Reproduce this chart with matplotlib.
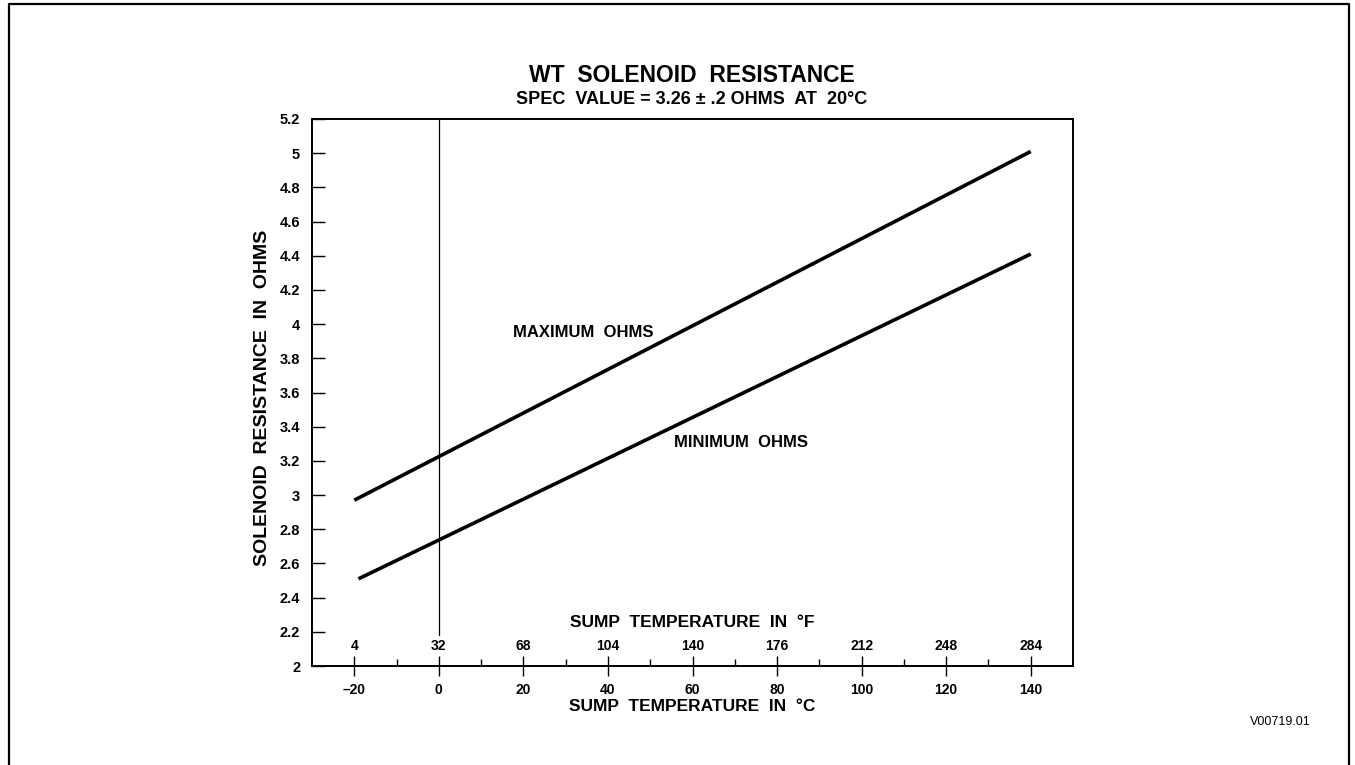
import matplotlib.pyplot as plt
from matplotlib.lines import Line2D

# resistance limits vs sump temperature (deg C)
max_temp = [-20, 140]
max_ohms = [2.97, 5.01]
min_temp = [-19, 140]
min_ohms = [2.51, 4.41]

c_ticks = [-20, 0, 20, 40, 60, 80, 100, 120, 140]
c_labels = ['–20', '0', '20', '40', '60', '80', '100', '120', '140']
f_labels = ['4', '32', '68', '104', '140', '176', '212', '248', '284']
y_ticks = [2, 2.2, 2.4, 2.6, 2.8, 3, 3.2, 3.4, 3.6, 3.8, 4, 4.2, 4.4, 4.6, 4.8, 5, 5.2]
y_labels = ['2', '2.2', '2.4', '2.6', '2.8', '3', '3.2', '3.4', '3.6', '3.8', '4',
            '4.2', '4.4', '4.6', '4.8', '5', '5.2']

FONT = ['Liberation Sans', 'DejaVu Sans']

W, H = 1355, 765
fig = plt.figure(figsize=(W / 100, H / 100), dpi=100)
ax = fig.add_axes([312 / W, 1 - 666 / H, (1073 - 312) / W, (666 - 119) / H])

ax.plot(max_temp, max_ohms, color='black', lw=2.6, solid_capstyle='butt')
ax.plot(min_temp, min_ohms, color='black', lw=2.6, solid_capstyle='butt')
ax.plot([0, 0], [2.18, 5.2], color='black', lw=0.9)

ax.set_xlim(-30, 150)
ax.set_ylim(2, 5.2)

for s in ax.spines.values():
    s.set_linewidth(1.4)

ax.set_xticks(c_ticks)
ax.set_xticklabels(c_labels, family=FONT, weight='bold', fontsize=10)
ax.set_xticks([c + 10 for c in c_ticks[:-1]], minor=True)
ax.tick_params(axis='x', which='major', direction='inout', length=14, width=1, pad=5)
ax.tick_params(axis='x', which='minor', direction='in', length=5, width=1)

ax.set_yticks(y_ticks)
ax.set_yticklabels(y_labels, family=FONT, weight='bold', fontsize=10.5)
ax.tick_params(axis='y', direction='in', length=9.5, width=1, pad=8.5)

# fahrenheit scale written inside the plot above the bottom axis
for c, f in zip(c_ticks, f_labels):
    ax.text(c, 0.036, f, transform=ax.get_xaxis_transform(), ha='center', va='center',
            family=FONT, weight='bold', fontsize=10)
ax.text(0.5, 0.080, 'SUMP  TEMPERATURE  IN  °F', transform=ax.transAxes, ha='center',
        va='center', family=FONT, weight='bold', fontsize=12.5)

ax.set_xlabel('SUMP  TEMPERATURE  IN  °C', family=FONT, weight='bold', fontsize=12.5,
              labelpad=2)
ax.set_ylabel('SOLENOID  RESISTANCE  IN  OHMS', family=FONT, weight='bold', fontsize=14)
ax.yaxis.set_label_coords(-0.054, 0.49)

ax.text(34.2, 3.95, 'MAXIMUM  OHMS', ha='center', va='center', family=FONT,
        weight='bold', fontsize=12)
ax.text(71.4, 3.31, 'MINIMUM  OHMS', ha='center', va='center', family=FONT,
        weight='bold', fontsize=12)

fig.text(692 / W, 1 - 75 / H, 'WT  SOLENOID  RESISTANCE', ha='center', va='center',
         family=FONT, weight='bold', fontsize=16.5)
fig.text(692 / W, 1 - 100 / H, 'SPEC  VALUE = 3.26 ± .2 OHMS  AT  20°C', ha='center',
         va='center', family=FONT, weight='bold', fontsize=13)
fig.text(1280 / W, 1 - 722 / H, 'V00719.01', ha='center', va='center', family=FONT,
         fontsize=9)

# page frame
fx = [9 / W, 9 / W, 1349 / W, 1349 / W]
fy = [0, 1 - 4 / H, 1 - 4 / H, 0]
fig.add_artist(Line2D(fx, fy, color='black', lw=1.6))

fig.savefig('out.png', dpi=100)
